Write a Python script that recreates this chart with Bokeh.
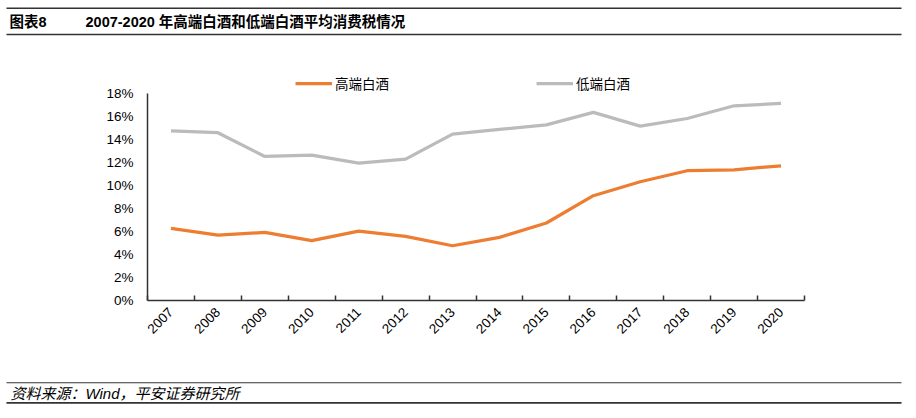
import math
from bokeh.plotting import figure
from bokeh.models import Range1d, FixedTicker, NumeralTickFormatter, Legend, LegendItem, LinearAxis
from bokeh.core.properties import value
from bokeh.embed import file_html
from bokeh.resources import INLINE

# ---------------- data ----------------
years = [2007, 2008, 2009, 2010, 2011, 2012, 2013, 2014, 2015, 2016, 2017, 2018, 2019, 2020]
high_end = [0.0624, 0.0566, 0.0589, 0.0517, 0.0601, 0.0555, 0.0473, 0.0546, 0.0671, 0.0909, 0.1031, 0.1127, 0.1135, 0.1170]
low_end = [0.1475, 0.1458, 0.1251, 0.1263, 0.1193, 0.1228, 0.1446, 0.1487, 0.1527, 0.1635, 0.1516, 0.1582, 0.1693, 0.1713]
series_names = ["高端白酒", "低端白酒"]
y_ticks = [0.0, 0.02, 0.04, 0.06, 0.08, 0.10, 0.12, 0.14, 0.16, 0.18]
title_tag = "图表8"
title_text = "2007-2020 年高端白酒和低端白酒平均消费税情况"
source_text = "资料来源：Wind，平安证券研究所"

# ---------------- layout (pixels) ----------------
FONT = "Liberation Sans, Arial, Noto Sans CJK SC, sans-serif"
W, H = 908, 408
PLOT_L, PLOT_R = 147.0, 804.0      # pixel x of the category band edges
PLOT_T, PLOT_B = 93.0, 299.5       # pixel y of top / bottom of value axis
ORANGE = "#ED7D31"
GRAY = "#BBBBBB"
RULE = "#333333"

x_lo, x_hi = years[0] - 0.5, years[-1] + 0.5
y_lo, y_hi = y_ticks[0], y_ticks[-1]
xs = (x_hi - x_lo) / (PLOT_R - PLOT_L)
ys = (y_hi - y_lo) / (PLOT_B - PLOT_T)

p = figure(width=W, height=H, output_backend="svg", toolbar_location=None, title=None,
           x_range=Range1d(x_lo - PLOT_L * xs, x_hi + (W - PLOT_R) * xs),
           y_range=Range1d(y_lo - (H - PLOT_B) * ys, y_hi + PLOT_T * ys),
           x_axis_location=None, y_axis_location=None,
           min_border=0, outline_line_color=None, background_fill_color="white")
p.xgrid.visible = False
p.ygrid.visible = False
p.extra_x_ranges = {"px": Range1d(0, W)}
p.extra_y_ranges = {"px": Range1d(H, 0)}

# ---------------- series ----------------
r_high = p.line(years, high_end, line_color=ORANGE, line_width=3.25, line_join="round")
r_low = p.line(years, low_end, line_color=GRAY, line_width=3.25, line_join="round")

# ---------------- axes ----------------
yax = LinearAxis(fixed_location=x_lo, bounds=(y_lo, y_hi),
                 ticker=FixedTicker(ticks=y_ticks), formatter=NumeralTickFormatter(format="0%"))
yax.major_tick_out = 0
yax.major_tick_in = 0
yax.minor_tick_out = 0
yax.minor_tick_in = 0
yax.major_label_standoff = 14

xax = LinearAxis(fixed_location=y_lo, bounds=(x_lo, x_hi),
                 ticker=FixedTicker(ticks=years, minor_ticks=[y - 0.5 for y in years] + [x_hi]))
xax.major_tick_out = 0
xax.major_tick_in = 0
xax.minor_tick_out = 0
xax.minor_tick_in = 5
xax.minor_tick_line_color = RULE
xax.minor_tick_line_width = 1.5
xax.major_label_orientation = math.pi / 4
xax.major_label_standoff = 10

for ax in (xax, yax):
    ax.axis_line_color = RULE
    ax.axis_line_width = 1.5
    ax.major_label_text_font = FONT
    ax.major_label_text_font_size = "13.5px"
    ax.major_label_text_color = "#000000"

p.add_layout(yax, "left")
p.add_layout(xax, "below")

# ---------------- legends ----------------
for name, rend, lx in ((series_names[0], r_high, 295), (series_names[1], r_low, 536)):
    lg = Legend(items=[LegendItem(label=name, renderers=[rend])],
                location=(lx, H - 93), orientation="horizontal",
                padding=0, margin=0, glyph_width=37, glyph_height=16,
                label_standoff=3, label_height=16,
                label_text_font=FONT, label_text_font_size="13.5px", label_text_color="#000000",
                border_line_color=None, background_fill_alpha=0)
    p.add_layout(lg, "center")

# ---------------- header & footer ----------------
p.segment(x0=[6, 6], y0=[7.7, 34.0], x1=[901, 901], y1=[7.7, 34.0],
          line_color=RULE, line_width=1.6, x_range_name="px", y_range_name="px")
p.segment(x0=[6], y0=[382.3], x1=[901], y1=[382.3],
          line_color=RULE, line_width=1.1, x_range_name="px", y_range_name="px")
p.segment(x0=[6], y0=[402.3], x1=[901], y1=[402.3],
          line_color=RULE, line_width=1.8, x_range_name="px", y_range_name="px")

p.text(x=[9], y=[21.5], text=[title_tag], text_font=value(FONT), text_font_size="14.5px",
       text_font_style="bold", text_baseline="middle", text_align="left", text_color="#000000",
       x_range_name="px", y_range_name="px")
p.text(x=[85], y=[21.5], text=[title_text], text_font=value(FONT), text_font_size="14.5px",
       text_font_style="bold", text_baseline="middle", text_align="left", text_color="#000000",
       x_range_name="px", y_range_name="px")
p.text(x=[10], y=[393], text=[source_text], text_font=value(FONT), text_font_size="15px",
       text_font_style="italic", text_baseline="middle", text_align="left", text_color="#000000",
       x_range_name="px", y_range_name="px")

open("out.html", "w").write(file_html(p, INLINE))
